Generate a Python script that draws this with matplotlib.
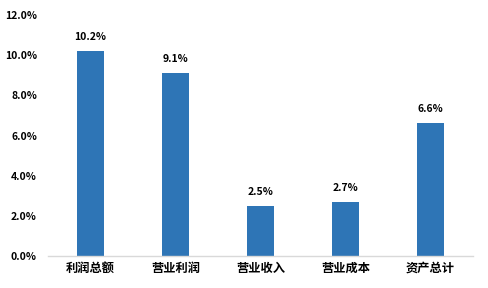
import matplotlib
matplotlib.use("Agg")
import matplotlib.pyplot as plt
from matplotlib.ticker import FuncFormatter

plt.rcParams['font.family'] = ['Noto Sans CJK SC', 'DejaVu Sans']

categories = ['利润总额', '营业利润', '营业收入', '营业成本', '资产总计']
values = [10.2, 9.1, 2.5, 2.7, 6.6]
yticks = [0, 2, 4, 6, 8, 10, 12]

fig = plt.figure(figsize=(4.88, 2.88), dpi=100)
ax = fig.add_axes([48/488, 32/288, 425/488, 241/288])

x = range(len(categories))
bars = ax.bar(x, values, width=0.32, color='#2E75B6', zorder=2)
for xi, v in zip(x, values):
    ax.text(xi, v + 0.45, f'{v:.1f}%', ha='center', va='bottom', fontsize=7.5,
            fontweight='bold', color='#000000')

ax.set_xlim(-0.5, len(categories) - 0.5)
ax.set_ylim(0, 12)
ax.set_yticks(yticks)
ax.yaxis.set_major_formatter(FuncFormatter(lambda v, p: f'{v:.1f}%'))
ax.set_xticks(list(x))
ax.set_xticklabels(categories)
for lbl in ax.get_yticklabels():
    lbl.set_fontweight('bold')
    lbl.set_fontsize(7.5)
    lbl.set_color('#000000')
for lbl in ax.get_xticklabels():
    lbl.set_fontweight('bold')
    lbl.set_fontsize(8.8)
    lbl.set_color('#000000')
ax.tick_params(axis='both', length=0)
ax.tick_params(axis='y', pad=8)
ax.tick_params(axis='x', pad=4)
for s in ['top', 'right', 'left']:
    ax.spines[s].set_visible(False)
ax.spines['bottom'].set_color('#D9D9D9')
ax.spines['bottom'].set_linewidth(1)

fig.savefig('out.png', dpi=100)
